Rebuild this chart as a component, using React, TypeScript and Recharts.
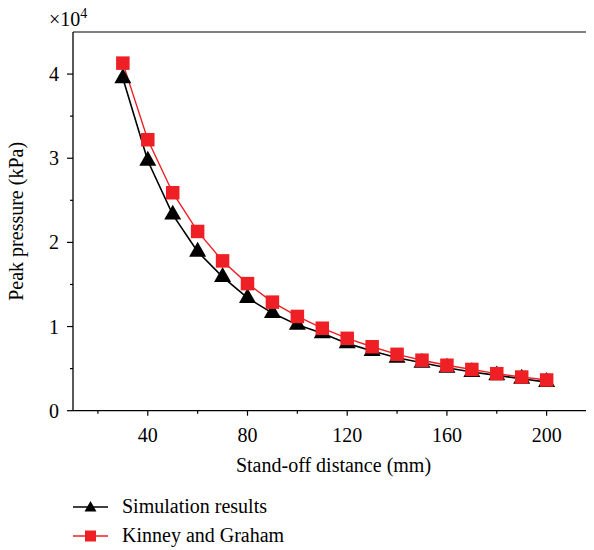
import React from 'react';
import { LineChart, Line, XAxis, YAxis, Legend } from 'recharts';

// stand-off distance (mm)
const distances = [30, 40, 50, 60, 70, 80, 90, 100, 110, 120, 130, 140, 150, 160, 170, 180, 190, 200];
// peak pressure (kPa)
const simulation = [39500, 29700, 23300, 18900, 15900, 13400, 11600, 10200, 9200, 8000, 7100, 6300, 5700, 5100, 4600, 4200, 3800, 3400];
const kinneyGraham = [41300, 32200, 25900, 21300, 17800, 15100, 12900, 11200, 9800, 8600, 7600, 6700, 6000, 5400, 4900, 4400, 4000, 3650];

const xTicks = [20, 40, 60, 80, 100, 120, 140, 160, 180, 200];
const yTicks = [0, 5000, 10000, 15000, 20000, 25000, 30000, 35000, 40000];

const RED = '#ee2025';
const FONT = "'Liberation Serif', 'Times New Roman', Times, 'DejaVu Serif', 'Noto Serif', serif";

const data = distances.map((d, i) => ({
  distance: d,
  simulation: simulation[i],
  kinney: kinneyGraham[i],
}));

const Triangle = ({ cx, cy, w = 17 }: { cx: number; cy: number; w?: number }) => {
  const h = w * 0.88;
  return (
    <polygon
      points={`${cx},${cy - (2 * h) / 3} ${cx - w / 2},${cy + h / 3} ${cx + w / 2},${cy + h / 3}`}
      fill="#000"
    />
  );
};

const Square = ({ cx, cy, s = 13.5 }: { cx: number; cy: number; s?: number }) => (
  <rect x={cx - s / 2} y={cy - s / 2} width={s} height={s} fill={RED} />
);

const renderTriangle = (p: any) => <Triangle key={`t-${p.index}`} cx={p.cx} cy={p.cy} />;
const renderSquare = (p: any) => <Square key={`s-${p.index}`} cx={p.cx} cy={p.cy} />;

const BottomTick = ({ x, y, payload }: any) => {
  const major = payload.value % 40 === 0;
  return (
    <g>
      <line x1={x} x2={x} y1={y} y2={y + (major ? 5 : 3)} stroke="#000" strokeWidth={1.2} />
      {major && (
        <text x={x} y={y + 31} textAnchor="middle" fontSize={20} fill="#000" style={{ fontFamily: FONT }}>
          {payload.value}
        </text>
      )}
    </g>
  );
};

const TopTick = ({ x, y }: any) => (
  <line x1={x} x2={x} y1={y} y2={y + 2} stroke="#000" strokeWidth={1.2} />
);

const LeftTick = ({ x, y, payload }: any) => {
  const major = payload.value % 10000 === 0;
  return (
    <g>
      <line x1={x - (major ? 6 : 3)} x2={x} y1={y} y2={y} stroke="#000" strokeWidth={1.2} />
      {major && (
        <text x={x - 14} y={y} dy="0.35em" textAnchor="end" fontSize={20} fill="#000" style={{ fontFamily: FONT }}>
          {payload.value / 10000}
        </text>
      )}
    </g>
  );
};

const YLabel = ({ viewBox }: any) => {
  const { x, y, height } = viewBox;
  const cx = x + 15.5;
  const cy = y + height / 2;
  return (
    <g style={{ fontFamily: FONT }} fill="#000">
      <text x={cx} y={cy} transform={`rotate(-90, ${cx}, ${cy})`} textAnchor="middle" fontSize={20}>
        Peak pressure (kPa)
      </text>
      <text x={x + 41} y={y - 6} fontSize={20}>
        ×10<tspan dy={-8} fontSize={14}>4</tspan>
      </text>
    </g>
  );
};

const XLabel = ({ viewBox }: any) => {
  const { x, y, width } = viewBox;
  return (
    <text x={x + width / 2} y={y + 61} textAnchor="middle" fontSize={20} fill="#000" style={{ fontFamily: FONT }}>
      Stand-off distance (mm)
    </text>
  );
};

const legendItems = [
  { name: 'Simulation results', color: '#000', shape: 'triangle' },
  { name: 'Kinney and Graham', color: RED, shape: 'square' },
];

const LegendContent = () => (
  <div style={{ fontFamily: FONT, fontSize: 20, color: '#000' }}>
    {legendItems.map((item) => (
      <div key={item.name} style={{ display: 'flex', alignItems: 'center', height: 29 }}>
        <svg width={35} height={20}>
          <line x1={0} x2={35} y1={10} y2={10} stroke={item.color} strokeWidth={1.5} />
          {item.shape === 'triangle' ? (
            <Triangle cx={17.5} cy={11} w={12} />
          ) : (
            <Square cx={17.5} cy={10} s={11} />
          )}
        </svg>
        <span style={{ marginLeft: 14, whiteSpace: 'nowrap' }}>{item.name}</span>
      </div>
    ))}
  </div>
);

export default function App() {
  return (
    <div style={{ width: 586, height: 542, fontFamily: FONT }}>
      <LineChart
        width={586}
        height={542}
        data={data}
        margin={{ top: 24, right: 0, bottom: 77.3, left: 0 }}
        style={{ fontFamily: FONT }}
      >
        <XAxis
          xAxisId="top"
          orientation="top"
          type="number"
          domain={[10, 219]}
          ticks={xTicks}
          interval={0}
          mirror
          height={1}
          tickSize={0}
          tickMargin={0}
          tickLine={false}
          tick={TopTick}
          axisLine={{ stroke: '#000', strokeWidth: 1.2 }}
          allowDataOverflow
        />
        <XAxis
          dataKey="distance"
          type="number"
          domain={[10, 219]}
          ticks={xTicks}
          interval={0}
          height={62}
          tickSize={0}
          tickMargin={0}
          tickLine={false}
          tick={BottomTick}
          axisLine={{ stroke: '#000', strokeWidth: 1.3 }}
          allowDataOverflow
          label={{ content: XLabel }}
        />
        <YAxis
          type="number"
          domain={[0, 45000]}
          ticks={yTicks}
          interval={0}
          width={65}
          tickSize={0}
          tickMargin={0}
          tickLine={false}
          tick={LeftTick}
          axisLine={{ stroke: '#000', strokeWidth: 1.3 }}
          allowDataOverflow
          label={{ content: YLabel }}
        />
        <Line
          type="linear"
          dataKey="simulation"
          name="Simulation results"
          stroke="#000"
          strokeWidth={1.6}
          dot={renderTriangle}
          activeDot={false}
          isAnimationActive={false}
        />
        <Line
          type="linear"
          dataKey="kinney"
          name="Kinney and Graham"
          stroke={RED}
          strokeWidth={1.4}
          dot={renderSquare}
          activeDot={false}
          isAnimationActive={false}
        />
        <Legend
          layout="vertical"
          align="center"
          verticalAlign="middle"
          content={LegendContent}
          wrapperStyle={{ left: 65, top: 484, width: 'auto' }}
        />
      </LineChart>
    </div>
  );
}
